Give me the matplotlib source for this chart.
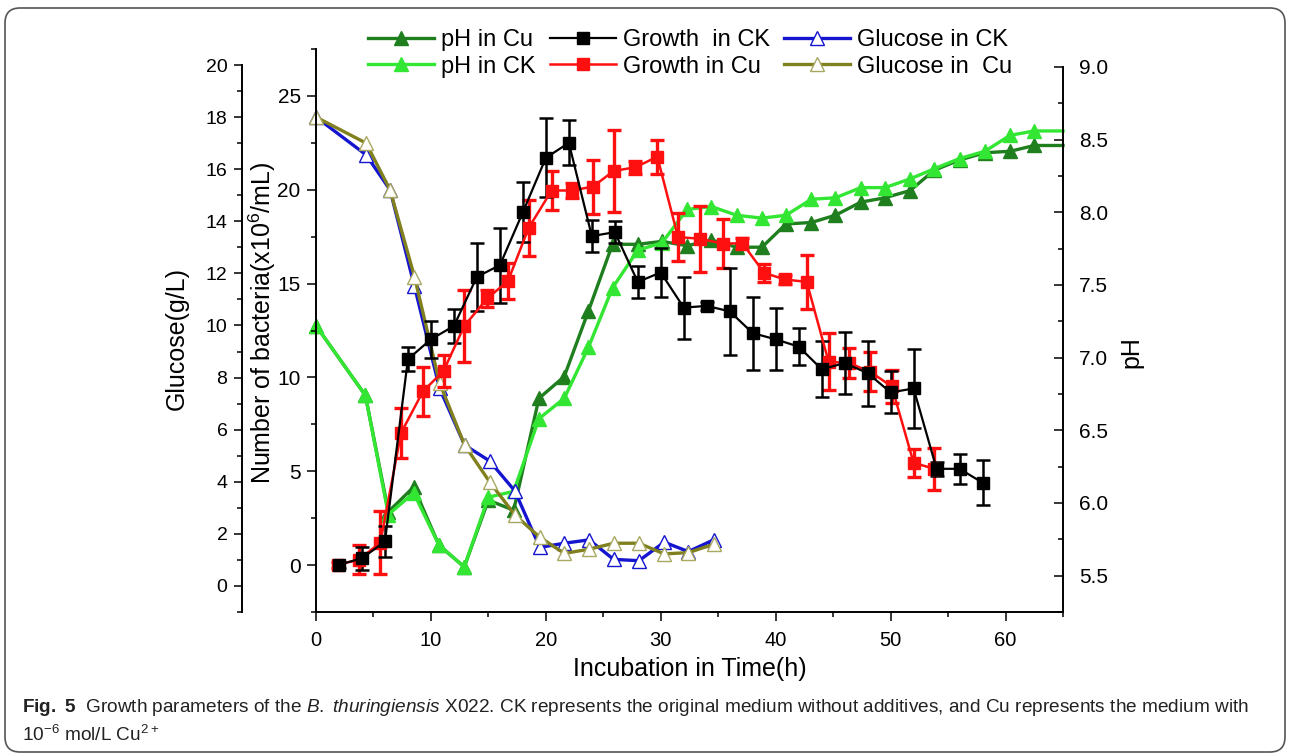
import numpy as np
import matplotlib
matplotlib.use('Agg')
import matplotlib.pyplot as plt
from matplotlib.ticker import MultipleLocator, FormatStrFormatter
from matplotlib.patches import FancyBboxPatch

plt.rcParams['font.family'] = ['Liberation Sans', 'DejaVu Sans']
plt.rcParams['mathtext.fontset'] = 'custom'
plt.rcParams['mathtext.rm'] = 'Liberation Sans'
plt.rcParams['mathtext.it'] = 'Liberation Sans:italic'
plt.rcParams['mathtext.bf'] = 'Liberation Sans:bold'

# growth (bacteria, x10^6/mL) with error bars
grow_ck_t = [2, 4, 6, 8, 10, 12, 14, 16, 18, 20, 22, 24, 26, 28, 30, 32, 34, 36, 38, 40,
             42, 44, 46, 48, 50, 52, 54, 56, 58]
grow_ck = [0.02, 0.36, 1.26, 10.97, 12.03, 12.74, 15.36, 15.98, 18.8, 21.7, 22.5, 17.53,
           17.74, 15.09, 15.59, 13.72, 13.81, 13.52, 12.36, 12.03, 11.64, 10.44, 10.76,
           10.23, 9.2, 9.41, 5.13, 5.13, 4.39]
grow_ck_err = [0.15, 0.6, 0.84, 0.65, 1.0, 0.92, 1.8, 2.0, 1.6, 2.1, 1.2, 0.84, 0.6, 0.87,
               1.3, 1.65, 0.2, 2.3, 1.95, 1.65, 0.97, 1.48, 1.64, 1.73, 1.12, 2.1, 0.38,
               0.8, 1.2]

grow_cu_t = [1.9, 3.7, 5.6, 7.4, 9.3, 11.1, 12.9, 14.9, 16.7, 18.5, 20.5, 22.3, 24.1, 25.9,
             27.8, 29.7, 31.5, 33.4, 35.4, 37.1, 39.0, 40.8, 42.7, 44.6, 46.4, 48.2, 50.1,
             52.0, 53.8]
grow_cu = [0.02, 0.28, 1.2, 7.04, 9.25, 10.35, 12.74, 14.21, 15.13, 17.96, 19.96, 19.96,
           20.17, 21.0, 21.2, 21.76, 17.48, 17.39, 17.13, 17.15, 15.57, 15.22, 15.09,
           10.84, 10.76, 10.31, 9.52, 5.45, 5.13]
grow_cu_err = [0.15, 0.77, 1.68, 1.33, 1.33, 0.86, 1.9, 0.44, 0.95, 1.5, 1.03, 0.4, 1.44,
               2.2, 0.35, 0.91, 1.28, 1.75, 1.3, 0.3, 0.5, 0.25, 1.44, 1.53, 0.8, 1.03,
               0.88, 0.75, 1.12]

# glucose (g/L)
glu_t = [0, 4.36, 6.45, 8.57, 10.75, 12.93, 15.1, 17.3, 19.47, 21.6, 23.77, 25.9, 28.1,
         30.3, 32.4, 34.6]
glu_ck = [18.0, 16.55, 15.2, 11.5, 7.59, 5.41, 4.8, 3.65, 1.48, 1.64, 1.77, 1.02, 0.97,
          1.68, 1.32, 1.77]
glu_cu = [18.0, 17.0, 15.2, 11.87, 7.8, 5.41, 4.0, 2.73, 1.87, 1.25, 1.41, 1.64, 1.64,
          1.23, 1.28, 1.6]

# pH
ph_t = [0, 4.3, 6.3, 8.5, 10.7, 12.9, 15.0, 17.2, 19.4, 21.6, 23.7, 25.8, 28.0, 30.1, 32.3,
        34.4, 36.6, 38.8, 40.9, 43.1, 45.2, 47.4, 49.5, 51.7, 53.8, 56.0, 58.2, 60.4, 62.5,
        65.0]
ph_cu = [7.22, 6.74, 5.94, 6.11, 5.71, 5.56, 6.02, 5.95, 6.72, 6.87, 7.32, 7.78, 7.78, 7.80,
         7.77, 7.81, 7.76, 7.76, 7.92, 7.93, 7.98, 8.07, 8.10, 8.15, 8.29, 8.36, 8.41, 8.42,
         8.46, 8.46]
ph_ck = [7.22, 6.74, 5.92, 6.07, 5.71, 5.56, 6.04, 6.08, 6.58, 6.72, 7.07, 7.48, 7.74, 7.79,
         8.02, 8.04, 7.98, 7.96, 7.98, 8.09, 8.10, 8.17, 8.17, 8.23, 8.30, 8.37, 8.42, 8.53,
         8.56, 8.56]

W, H = 1290, 754
fig = plt.figure(figsize=(W / 100, H / 100), dpi=100)

left = 316 / W
width = (1063 - 316) / W
bottom = (H - 612) / H
ax = fig.add_axes([left, bottom, width, (612 - 49) / H])      # bacteria
ax_p = fig.add_axes([left, bottom, width, (612 - 67) / H])    # pH
ax_g = fig.add_axes([left, bottom, width, (612 - 65) / H])    # glucose
ax_p.set_zorder(1)
ax_g.set_zorder(2)
ax.set_zorder(3)
for a in (ax, ax_p, ax_g):
    a.patch.set_visible(False)
    a.set_xlim(0, 65)
    for s in a.spines.values():
        s.set_linewidth(1.4)
        s.set_visible(False)

dark_green = '#1f7f1f'
light_green = '#33e633'
blue = '#1515d0'
olive = '#80801f'

# pH
l_pcu, = ax_p.plot(ph_t, ph_cu, color=dark_green, lw=2.4, marker='^', ms=10,
                   markevery=slice(0, len(ph_t) - 1), clip_on=False)
l_pck, = ax_p.plot(ph_t, ph_ck, color=light_green, lw=2.4, marker='^', ms=10,
                   markevery=slice(0, len(ph_t) - 1), clip_on=False)
ax_p.set_ylim(5.25, 9.0)
ax_p.xaxis.set_visible(False)
ax_p.spines['right'].set_visible(True)
ax_p.yaxis.tick_right()
ax_p.yaxis.set_label_position('right')
ax_p.yaxis.set_major_locator(MultipleLocator(0.5))
ax_p.yaxis.set_minor_locator(MultipleLocator(0.25))
ax_p.yaxis.set_major_formatter(FormatStrFormatter('%.1f'))
ax_p.tick_params(axis='y', which='both', direction='in', width=1.1, labelsize=15, pad=11.5)
ax_p.tick_params(axis='y', which='major', length=6.5)
ax_p.tick_params(axis='y', which='minor', length=3.5)
ax_p.set_ylabel('pH', fontsize=18)
ax_p.yaxis.set_label_coords(1.091, 0.477)
ax_p.yaxis.label.set_va('center')

# glucose
l_glck, = ax_g.plot(glu_t, glu_ck, color=blue, lw=2.4, marker='^', ms=10,
                    mfc='white', mec=blue, mew=1.0, clip_on=False)
l_glcu, = ax_g.plot(glu_t, glu_cu, color=olive, lw=2.4, marker='^', ms=10,
                    mfc='white', mec='#a8a860', mew=1.0, clip_on=False)
ax_g.set_ylim(-1, 20)
ax_g.xaxis.set_visible(False)
ax_g.spines['left'].set_visible(True)
ax_g.spines['left'].set_position(('outward', 53.3))
ax_g.yaxis.set_major_locator(MultipleLocator(2))
ax_g.yaxis.set_minor_locator(MultipleLocator(1))
ax_g.tick_params(axis='y', which='both', direction='out', width=1.1, labelsize=14, pad=4.5)
ax_g.tick_params(axis='y', which='major', length=6)
ax_g.tick_params(axis='y', which='minor', length=3.5)
ax_g.set_ylabel('Glucose(g/L)', fontsize=18)
ax_g.yaxis.set_label_coords(-0.186, 0.5)
ax_g.yaxis.label.set_va('center')

# growth
eb_cu = ax.errorbar(grow_cu_t, grow_cu, yerr=grow_cu_err, color='#ff1010', lw=1.8,
                    marker='s', ms=8.5, elinewidth=2.4, capsize=5, capthick=2.4)
eb_ck = ax.errorbar(grow_ck_t, grow_ck, yerr=grow_ck_err, color='black', lw=1.6,
                    marker='s', ms=8.5, elinewidth=1.8, capsize=5, capthick=1.8)
ax.set_ylim(-2.5, 27.5)
ax.spines['left'].set_visible(True)
ax.spines['bottom'].set_visible(True)
ax.yaxis.set_major_locator(MultipleLocator(5))
ax.yaxis.set_minor_locator(MultipleLocator(2.5))
ax.xaxis.set_major_locator(MultipleLocator(10))
ax.xaxis.set_minor_locator(MultipleLocator(5))
ax.tick_params(which='both', direction='out', width=1.1)
ax.tick_params(which='major', length=6.5)
ax.tick_params(which='minor', length=3.5)
ax.tick_params(axis='y', labelsize=15, pad=4.5)
ax.tick_params(axis='x', labelsize=14.5, pad=7)
ax.set_ylabel('Number of bacteria(x10$^6$/mL)', fontsize=18)
ax.yaxis.set_label_coords(-0.0723, 0.513)
ax.yaxis.label.set_va('center')
ax.set_xlabel('Incubation in Time(h)', fontsize=18, labelpad=5)

handles = [l_pcu, l_pck, eb_ck[0], eb_cu[0], l_glck, l_glcu]
labels = ['pH in Cu', 'pH in CK', 'Growth  in CK', 'Growth in Cu', 'Glucose in CK',
          'Glucose in  Cu']
fig.legend(handles, labels, ncol=3, loc='upper left', bbox_to_anchor=(368 / W, 1 - 29 / H),
           frameon=False, fontsize=17, handlelength=2.8, handletextpad=0.3,
           columnspacing=0.6, labelspacing=0.2, borderpad=0, borderaxespad=0, numpoints=1)

# caption
fig.text(22 / W, 1 - 708 / H,
         r'$\mathbf{Fig.\ 5}$  Growth parameters of the $\mathit{B.\ thuringiensis}$ X022. '
         'CK represents the original medium without additives, and Cu represents the medium with',
         fontsize=13.7, va='center', ha='left', color='#222222')
fig.text(22 / W, 1 - 735 / H, r'10$^{-6}$ mol/L Cu$^{2+}$', fontsize=13.7, va='center',
         ha='left', color='#222222')

# panel frame
frame = FancyBboxPatch((0.05, 0.02), 12.8, 7.44, boxstyle='round,pad=0,rounding_size=0.15',
                       transform=fig.dpi_scale_trans, fill=False, edgecolor='#555555', lw=1.2)
fig.patches.append(frame)

fig.savefig('out.png', dpi=100)
